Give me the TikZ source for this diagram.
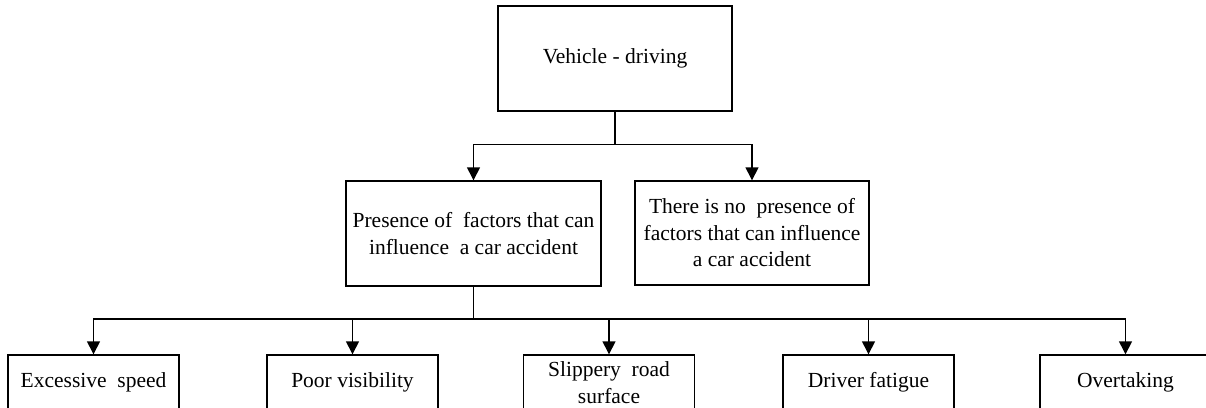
\documentclass[tikz,border=0pt]{standalone}
\usepackage{fontspec}
\setmainfont{Liberation Serif}
\usetikzlibrary{arrows.meta}
\begin{document}
\begin{tikzpicture}[x=1pt,y=-1pt,
  every node/.style={font=\fontsize{21.5}{26.5}\selectfont},
  boxnode/.style={draw,line width=1.4pt,rectangle,inner sep=0pt,align=center},
  conn/.style={line width=1.4pt},
  arr/.style={conn,-{Triangle[width=13pt,length=13pt]}}]
\useasboundingbox (0,0) rectangle (1206,407);
\fill[white] (0,0) rectangle (1206,407);
\node[boxnode,minimum width=234pt,minimum height=105pt] (top) at (615,58.5) {Vehicle - driving};
\node[boxnode,minimum width=255pt,minimum height=105pt] (m1) at (473.5,233.5) {Presence of\ \ factors that can\\influence\ \ a car accident};
\node[boxnode,minimum width=234pt,minimum height=104pt] (m2) at (752,233) {There is no\ \ presence of\\factors that can influence\\a car accident};
\node[boxnode,minimum width=171pt,minimum height=55pt] (b1) at (93.5,382.5) {Excessive\ \ speed};
\node[boxnode,minimum width=171pt,minimum height=55pt] (b2) at (352.5,382.5) {Poor visibility};
\node[boxnode,minimum width=171pt,minimum height=55pt] (b3) at (609,382.5) {Slippery\ \ road\\surface};
\node[boxnode,minimum width=171pt,minimum height=55pt] (b4) at (868.5,382.5) {Driver fatigue};
\node[boxnode,minimum width=171pt,minimum height=55pt] (b5) at (1125.5,382.5) {Overtaking};
\coordinate (j1) at (615,144.5);
\coordinate (j2) at (473.5,319);
\draw[conn] (top.south) -- (j1);
\draw[arr] (j1) -| (m1.north);
\draw[arr] (j1) -| (m2.north);
\draw[conn] (m1.south) -- (j2);
\draw[arr] (j2) -| (b1.north);
\draw[arr] (j2) -| (b2.north);
\draw[arr] (j2) -| (b3.north);
\draw[arr] (j2) -| (b4.north);
\draw[arr] (j2) -| (b5.north);
\end{tikzpicture}
\end{document}
